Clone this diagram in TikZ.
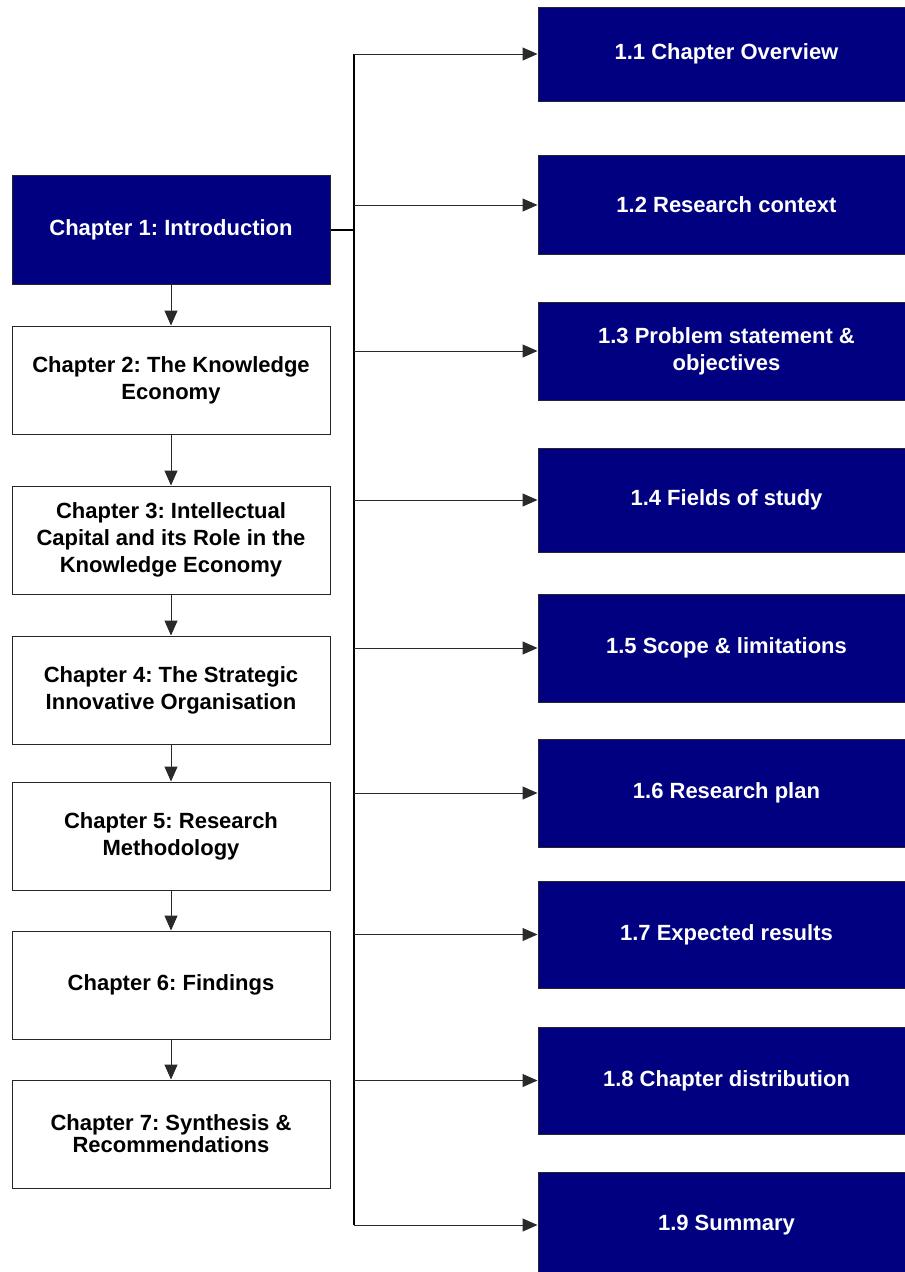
\documentclass[tikz,border=0pt]{standalone}
\usepackage{fontspec}
\setmainfont{Liberation Sans}
\frenchspacing
\usetikzlibrary{arrows.meta}
\definecolor{navy}{HTML}{000080}
\definecolor{linegray}{HTML}{2A2A2A}
\tikzset{
  box/.style={draw=black!85, line width=1pt, inner sep=0pt, align=center,
    font=\fontsize{22pt}{27pt}\selectfont\bfseries},
  chapbox/.style={box, fill=white, text=black, minimum width=318pt},
  darkchap/.style={chapbox, fill=navy, text=white},
  secbox/.style={box, fill=navy, text=white, minimum width=377pt},
  flow/.style={draw=linegray, line width=1pt, -{Triangle[length=15pt,width=13pt]}},
  trunk/.style={draw=black, line width=1.3pt},
  link/.style={draw=black, line width=2pt}
}
\begin{document}
\begin{tikzpicture}[x=1pt, y=-1pt]
\useasboundingbox (0,0) rectangle (905,1272);
\fill[white] (0,0) rectangle (905,1272);

% chapter column
\node[darkchap, minimum height=109pt] (c1) at (171,229.5) {Chapter 1: Introduction};
\node[chapbox, minimum height=108pt] (c2) at (171,380) {Chapter 2: The Knowledge\\Economy};
\node[chapbox, minimum height=108pt] (c3) at (171,540) {Chapter 3: Intellectual\\Capital and its Role in the\\Knowledge Economy};
\node[chapbox, minimum height=108pt] (c4) at (171,690) {Chapter 4: The Strategic\\Innovative Organisation};
\node[chapbox, minimum height=108pt] (c5) at (171,836) {Chapter 5: Research\\Methodology};
\node[chapbox, minimum height=108pt] (c6) at (171,985) {Chapter 6: Findings};
\node[chapbox, minimum height=108pt, font=\fontsize{22pt}{22pt}\selectfont\bfseries] (c7) at (171,1134) {Chapter 7: Synthesis \&\\Recommendations};

% section column
\node[secbox, minimum height=94pt]  (s1) at (726.5,54)    {1.1 Chapter Overview};
\node[secbox, minimum height=99pt]  (s2) at (726.5,205)   {1.2 Research context};
\node[secbox, minimum height=98pt]  (s3) at (726.5,351)   {1.3 Problem statement \&\\objectives};
\node[secbox, minimum height=104pt] (s4) at (726.5,500)   {1.4 Fields of study};
\node[secbox, minimum height=108pt] (s5) at (726.5,648)   {1.5 Scope \& limitations};
\node[secbox, minimum height=108pt] (s6) at (726.5,793)   {1.6 Research plan};
\node[secbox, minimum height=107pt] (s7) at (726.5,934.5) {1.7 Expected results};
\node[secbox, minimum height=107pt] (s8) at (726.5,1080.5){1.8 Chapter distribution};
\node[secbox, minimum height=106pt] (s9) at (726.5,1225)  {1.9 Summary};

% chapter sequence
\foreach \a/\b in {c1/c2,c2/c3,c3/c4,c4/c5,c5/c6,c6/c7}
  \draw[flow] (\a.south) -- (\b.north);

% distribution trunk
\coordinate (tk) at (354,0);
\draw[trunk] (tk |- s1.west) -- (tk |- s9.west);
\draw[link] (c1.east) -- (c1.east -| tk);
\foreach \s in {s1,s2,s3,s4,s5,s6,s7,s8,s9}
  \draw[flow] (tk |- \s.west) -- (\s.west);
\end{tikzpicture}
\end{document}
